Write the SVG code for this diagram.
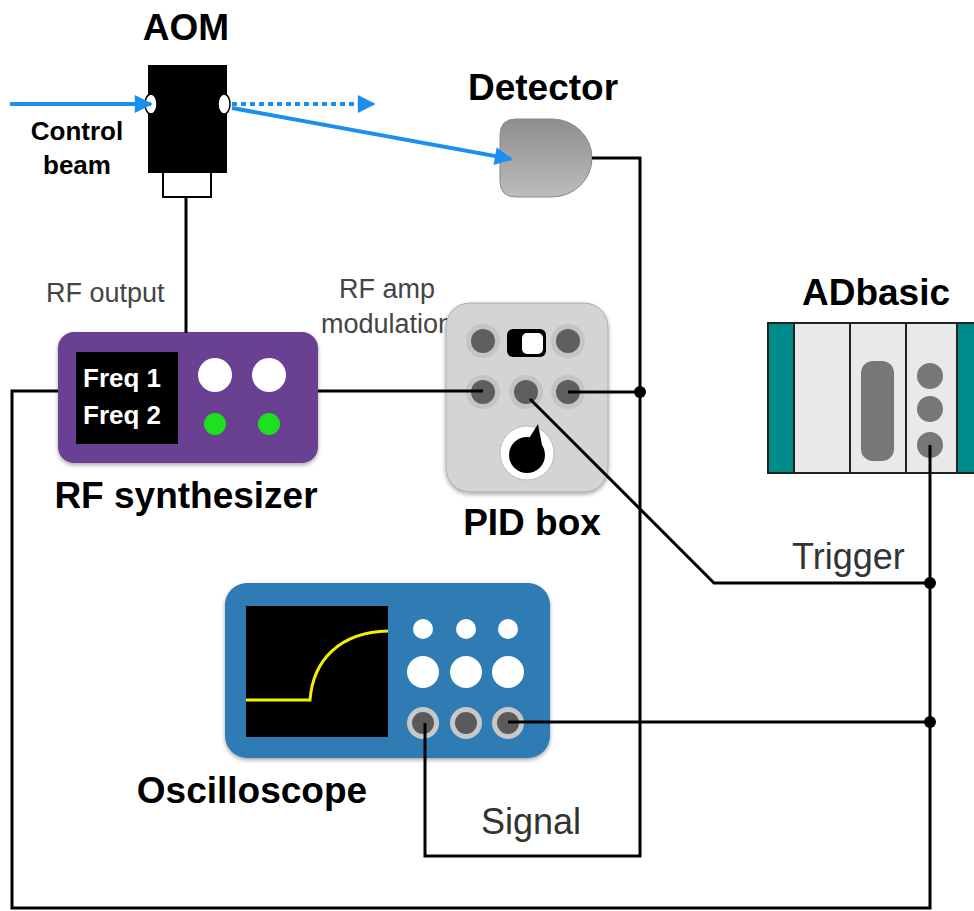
<svg xmlns="http://www.w3.org/2000/svg" width="974" height="911" viewBox="0 0 974 911">
  <defs>
    <style>
      .wire { fill: none; stroke: #000; stroke-width: 3; }
      .dot { fill: #000; }
      .beam { fill: none; stroke: #1b8ff0; stroke-width: 4; }
      .title { font-family: "Liberation Sans", Arial, sans-serif; font-weight: bold; font-size: 37px; fill: #000; text-anchor: middle; }
      .note { font-family: "Liberation Sans", Arial, sans-serif; font-size: 27px; fill: #444; }
      .tag { font-family: "Liberation Sans", Arial, sans-serif; font-size: 36px; fill: #333; }
      .small { font-family: "Liberation Sans", Arial, sans-serif; font-weight: bold; font-size: 26px; text-anchor: middle; }
      .jack-ring { fill: #c8c8c8; }
      .jack-core { fill: #5a5a5a; }
      .pid-ring { fill: #c4c4c4; }
      .pid-core { fill: #5e5e5e; }
    </style>
    <marker id="head" viewBox="0 0 10 10" refX="9" refY="5" markerWidth="5" markerHeight="4.5" markerUnits="strokeWidth" orient="auto">
      <path d="M0,0 L10,5 L0,10 Z" fill="#1b8ff0"/>
    </marker>
    <linearGradient id="detGrad" x1="0" y1="0" x2="0" y2="1">
      <stop offset="0" stop-color="#8e8e8e"/>
      <stop offset="1" stop-color="#bdbdbd"/>
    </linearGradient>
    <filter id="shadow" x="-10%" y="-10%" width="120%" height="125%">
      <feDropShadow dx="0" dy="2" stdDeviation="2" flood-color="#000" flood-opacity="0.35"/>
    </filter>
  </defs>

  <!-- AOM -->
  <g id="aom">
    <text class="title" x="186" y="40">AOM</text>
    <rect x="163" y="172" width="48" height="25" fill="#fff" stroke="#000" stroke-width="2"/>
    <rect x="148" y="65" width="79" height="108" fill="#000"/>
    <ellipse cx="151" cy="104" rx="6" ry="10" fill="#fff" stroke="#000" stroke-width="1.5"/>
    <ellipse cx="224" cy="104" rx="6" ry="10" fill="#fff" stroke="#000" stroke-width="1.5"/>
    <text class="small" x="77" y="140" font-size="27">Control</text>
    <text class="small" x="77" y="174" font-size="27">beam</text>
  </g>

  <!-- Detector -->
  <g id="detector">
    <text class="title" x="543" y="100">Detector</text>
    <path d="M516,119 H552 A40,39 0 0 1 592,158 A40,39 0 0 1 552,197 H516 Q500,197 500,181 V135 Q500,119 516,119 Z" fill="url(#detGrad)" stroke="#888" stroke-width="1"/>
  </g>

  <!-- RF synthesizer -->
  <g id="rf-synthesizer">
    <rect x="58" y="332" width="260" height="131" rx="16" fill="#6a4192" filter="url(#shadow)"/>
    <rect x="76" y="352" width="102" height="92" fill="#000"/>
    <text x="83" y="387" font-family="Liberation Sans, Arial, sans-serif" font-weight="bold" font-size="26" fill="#fff">Freq 1</text>
    <text x="83" y="424" font-family="Liberation Sans, Arial, sans-serif" font-weight="bold" font-size="26" fill="#fff">Freq 2</text>
    <circle cx="215" cy="375" r="17" fill="#fff"/>
    <circle cx="269" cy="375" r="17" fill="#fff"/>
    <circle cx="215" cy="424" r="11" fill="#1ee01e"/>
    <circle cx="269" cy="424" r="11" fill="#1ee01e"/>
    <text class="title" x="186" y="508">RF synthesizer</text>
    <text class="note" x="46" y="302">RF output</text>
    <text class="note" x="387" y="298" text-anchor="middle">RF amp</text>
    <text class="note" x="387" y="333" text-anchor="middle">modulation</text>
  </g>

  <!-- PID box -->
  <g id="pid-box">
    <rect x="446" y="303" width="162" height="189" rx="24" fill="#d4d4d4" stroke="#aaa" stroke-width="1" filter="url(#shadow)"/>
    <circle class="pid-ring" cx="483" cy="341" r="17"/>
    <circle class="pid-core" cx="483" cy="341" r="12"/>
    <circle class="pid-ring" cx="568" cy="341" r="17"/>
    <circle class="pid-core" cx="568" cy="341" r="12"/>
    <rect x="507" y="329" width="39" height="28" rx="6" fill="#000"/>
    <rect x="522" y="333" width="21" height="21" rx="5" fill="#fff"/>
    <circle class="pid-ring" cx="483" cy="392" r="17"/>
    <circle class="pid-core" cx="483" cy="392" r="12"/>
    <circle class="pid-ring" cx="526" cy="392" r="17"/>
    <circle class="pid-core" cx="526" cy="392" r="12"/>
    <circle class="pid-ring" cx="568" cy="392" r="17"/>
    <circle class="pid-core" cx="568" cy="392" r="12"/>
    <circle cx="527" cy="453" r="27" fill="#fff" stroke="#bbb" stroke-width="1"/>
    <circle cx="527" cy="455" r="18" fill="#000"/>
    <path d="M528,440 L538,424 L542,445 Z" fill="#000"/>
    <text class="title" x="532" y="535">PID box</text>
  </g>

  <!-- ADbasic -->
  <g id="adbasic">
    <text class="title" x="876" y="305">ADbasic</text>
    <rect x="768" y="323" width="210" height="150" fill="#e9e9e9" stroke="#222" stroke-width="2"/>
    <rect x="768" y="323" width="26" height="150" fill="#008b8b" stroke="#222" stroke-width="2"/>
    <rect x="957" y="323" width="21" height="150" fill="#008b8b" stroke="#222" stroke-width="2"/>
    <path d="M850,323 V473 M906,323 V473" stroke="#222" stroke-width="2"/>
    <rect x="861" y="361" width="33" height="100" rx="12" fill="#777"/>
    <circle cx="930" cy="376" r="13" fill="#777"/>
    <circle cx="930" cy="409" r="13" fill="#777"/>
    <circle cx="930" cy="445" r="13" fill="#777"/>
  </g>

  <!-- Oscilloscope -->
  <g id="oscilloscope">
    <rect x="225" y="583" width="325" height="175" rx="22" fill="#2e7bb3" filter="url(#shadow)"/>
    <rect x="246" y="606" width="142" height="131" fill="#000"/>
    <path d="M246,700 H310 C313,660 340,632 388,631" fill="none" stroke="#f5f000" stroke-width="3"/>
    <circle cx="423" cy="629" r="10" fill="#fff"/>
    <circle cx="466" cy="629" r="10" fill="#fff"/>
    <circle cx="508" cy="629" r="10" fill="#fff"/>
    <circle cx="423" cy="672" r="16" fill="#fff"/>
    <circle cx="466" cy="672" r="16" fill="#fff"/>
    <circle cx="508" cy="672" r="16" fill="#fff"/>
    <circle class="jack-ring" cx="423" cy="723" r="16"/>
    <circle class="jack-core" cx="423" cy="723" r="11"/>
    <circle class="jack-ring" cx="466" cy="723" r="16"/>
    <circle class="jack-core" cx="466" cy="723" r="11"/>
    <circle class="jack-ring" cx="508" cy="723" r="16"/>
    <circle class="jack-core" cx="508" cy="723" r="11"/>
    <text class="title" x="252" y="803">Oscilloscope</text>
  </g>

  <!-- optical beams -->
  <g id="beams">
    <path class="beam" d="M10,104 H151" marker-end="url(#head)"/>
    <path class="beam" d="M232,104 H374" stroke-dasharray="5,4" marker-end="url(#head)"/>
    <path class="beam" d="M232,108 L511,159" marker-end="url(#head)"/>
  </g>

  <!-- cables, drawn over the instrument panels so they meet the jacks -->
  <g id="connectors">
    <!-- AOM drive cable to RF synthesizer -->
    <path class="wire" d="M186,197 V333"/>
    <!-- RF synthesizer to PID input -->
    <path class="wire" d="M318,391 H483"/>
    <!-- PID output to detector bus -->
    <path class="wire" d="M568,392 H640"/>
    <!-- detector signal bus down to the oscilloscope -->
    <path class="wire" d="M592,158 H640 V856 H425 V723"/>
    <!-- PID trigger line -->
    <path class="wire" d="M530,399 L714,583 H930"/>
    <!-- oscilloscope channel to ADbasic -->
    <path class="wire" d="M508,722 H930"/>
    <!-- ADbasic output loop back to RF synthesizer -->
    <path class="wire" d="M930,445 V908 H12 V391 H58"/>
    <circle class="dot" cx="640" cy="392" r="6"/>
    <circle class="dot" cx="930" cy="583" r="6"/>
    <circle class="dot" cx="930" cy="722" r="6"/>
  </g>

  <!-- line labels -->
  <g id="labels">
    <text class="tag" x="792" y="569">Trigger</text>
    <text class="tag" x="481" y="834">Signal</text>
  </g>
</svg>
